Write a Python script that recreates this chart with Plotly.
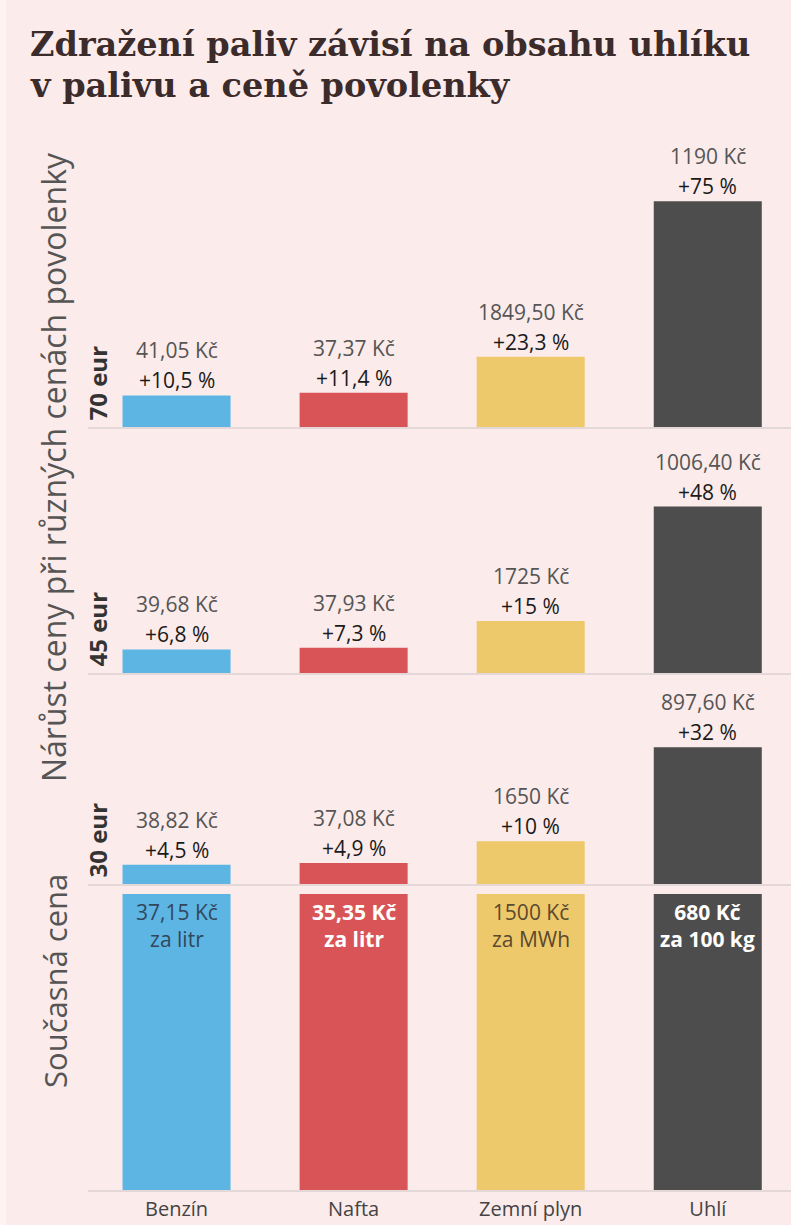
import plotly.graph_objects as go

W, H = 791, 1225

categories = ["Benzín", "Nafta", "Zemní plyn", "Uhlí"]
bar_colors = ["#5db5e4", "#d95457", "#eec96b", "#4d4d4d"]

scenarios = ["70 eur", "45 eur", "30 eur"]
pct_70 = [10.5, 11.4, 23.3, 75]
pct_45 = [6.8, 7.3, 15, 48]
pct_30 = [4.5, 4.9, 10, 32]
price_70 = ["41,05 Kč", "37,37 Kč", "1849,50 Kč", "1190 Kč"]
price_45 = ["39,68 Kč", "37,93 Kč", "1725 Kč", "1006,40 Kč"]
price_30 = ["38,82 Kč", "37,08 Kč", "1650 Kč", "897,60 Kč"]

current_price = ["37,15 Kč", "35,35 Kč", "1500 Kč", "680 Kč"]
current_unit = ["za litr", "za litr", "za MWh", "za 100 kg"]
current_share = [100, 100, 100, 100]
current_text_colors = ["#33475b", "#ffffff", "#5b4a2e", "#ffffff"]

BG = "#fbebea"
FONT = "Open Sans"


def py(px):
    return 1 - px / H


def pxx(px):
    return px / W


# panel layout (pixel bottom, pixel top, y max)
panels = [
    (pct_70, price_70, 427, 156, 90),
    (pct_45, price_45, 673, 465, 60),
    (pct_30, price_30, 884, 713, 40),
]

fig = go.Figure()
annotations = []
layout_axes = {}

x_dom = [88 / W, 1.0]
x_rng = [-0.5, 3.47]
line_col = "#e4d7d7"


def pct_text(v):
    return "+" + f"{v:g}".replace(".", ",") + " %"


for i, (pcts, prices, bot, top, ymax) in enumerate(panels):
    n = i + 1
    xa = "x" if n == 1 else f"x{n}"
    ya = "y" if n == 1 else f"y{n}"
    fig.add_trace(go.Bar(
        x=categories, y=pcts, marker_color=bar_colors, width=0.61,
        xaxis=xa, yaxis=ya, hoverinfo="skip", showlegend=False,
        marker_line_width=0,
    ))
    layout_axes["xaxis" if n == 1 else f"xaxis{n}"] = dict(
        domain=x_dom, range=x_rng, anchor=ya, showline=True, linecolor=line_col,
        linewidth=1.5, showgrid=False, zeroline=False, showticklabels=False,
        ticks="", fixedrange=True,
    )
    layout_axes["yaxis" if n == 1 else f"yaxis{n}"] = dict(
        domain=[py(bot), py(top)], range=[0, ymax], anchor=xa, visible=False,
        showgrid=False, zeroline=False, fixedrange=True,
    )
    for c, v, p in zip(categories, pcts, prices):
        annotations.append(dict(
            x=c, y=v, xref=xa, yref=ya, text=pct_text(v), showarrow=False,
            yanchor="middle", yshift=15, font=dict(size=21, color="#1a1a1a", family=FONT),
        ))
        annotations.append(dict(
            x=c, y=v, xref=xa, yref=ya, text=p, showarrow=False,
            yanchor="middle", yshift=45, font=dict(size=21, color="#555555", family=FONT),
        ))
    # scenario label
    annotations.append(dict(
        x=pxx(97), y=py(bot - 4), xref="paper", yref="paper", text=scenarios[i],
        textangle=-90, showarrow=False, xanchor="center", yanchor="bottom",
        font=dict(size=24, color="#333333", family=FONT, weight="bold"),
    ))

# current price panel
fig.add_trace(go.Bar(
    x=categories, y=current_share, marker_color=bar_colors, width=0.61,
    xaxis="x4", yaxis="y4", hoverinfo="skip", showlegend=False, marker_line_width=0,
))
layout_axes["xaxis4"] = dict(
    domain=x_dom, range=x_rng, anchor="y4", showline=True, linecolor=line_col,
    linewidth=1.5, showgrid=False, zeroline=False, showticklabels=True, ticks="",
    tickfont=dict(size=20, color="#444444", family=FONT), fixedrange=True,
)
layout_axes["yaxis4"] = dict(
    domain=[py(1190), py(894)], range=[0, 100], anchor="x4", visible=False,
    showgrid=False, zeroline=False, fixedrange=True,
)
for c, v, p, u, tc in zip(categories, current_share, current_price, current_unit, current_text_colors):
    fw = "bold" if tc == "#ffffff" else "normal"
    annotations.append(dict(
        x=c, y=v, xref="x4", yref="y4", text=f"{p}<br>{u}", showarrow=False,
        yanchor="middle", yshift=-31,
        font=dict(size=21, color=tc, family=FONT, weight=fw),
    ))

# side titles
annotations.append(dict(
    x=pxx(53), y=py(467), xref="paper", yref="paper",
    text="Nárůst ceny při různých cenách povolenky", textangle=-90, showarrow=False,
    xanchor="center", yanchor="middle", font=dict(size=32, color="#555555", family=FONT),
))
annotations.append(dict(
    x=pxx(55), y=py(981), xref="paper", yref="paper",
    text="Současná cena", textangle=-90, showarrow=False,
    xanchor="center", yanchor="middle", font=dict(size=31, color="#555555", family=FONT),
))

# title (two lines)
title_font = dict(size=33.5, color="#3b2b2b", family="DejaVu Serif", weight="bold")
annotations.append(dict(
    x=pxx(28), y=py(45), xref="paper", yref="paper", xanchor="left", yanchor="middle",
    text="Zdražení paliv závisí na obsahu uhlíku", showarrow=False, font=title_font,
))
annotations.append(dict(
    x=pxx(28), y=py(86), xref="paper", yref="paper", xanchor="left", yanchor="middle",
    text="v palivu a ceně povolenky", showarrow=False, font=title_font,
))

fig.update_layout(
    width=W, height=H, margin=dict(l=0, r=0, t=0, b=0),
    paper_bgcolor=BG, plot_bgcolor=BG, bargap=0.39,
    annotations=annotations,
    shapes=[dict(type="rect", xref="paper", yref="paper", x0=0, x1=pxx(6), y0=0, y1=1,
                 fillcolor="#fdf3f2", line_width=0, layer="below")],
    **layout_axes,
)

fig.write_html(
    "out.html",
    config={"displayModeBar": False},
    post_script="document.body.style.margin='0';document.body.style.overflow='hidden';",
)
